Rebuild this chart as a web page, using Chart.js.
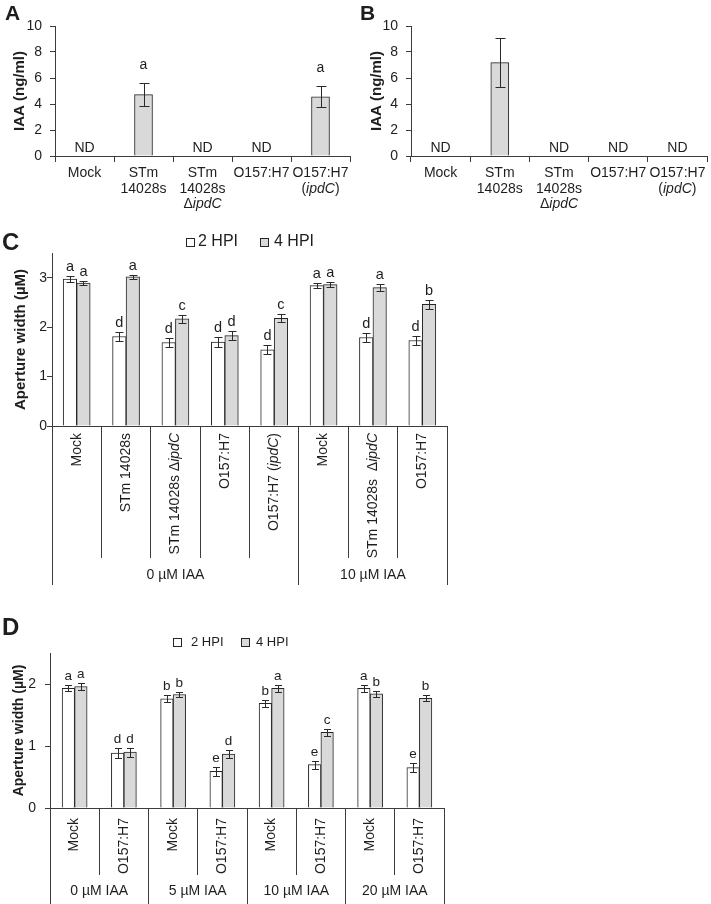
<!DOCTYPE html>
<html>
<head>
<meta charset="utf-8">
<script src="https://cdn.jsdelivr.net/npm/chart.js@4.4.1/dist/chart.umd.min.js"></script>
<style>
html,body{margin:0;padding:0;background:#fff;}
#wrap{position:relative;width:711px;height:904px;overflow:hidden;background:#fff;}
canvas{position:absolute;}
</style>
</head>
<body>
<div id="wrap">
<canvas id="cA" width="355" height="220" style="left:0;top:0"></canvas>
<canvas id="cB" width="356" height="220" style="left:355px;top:0"></canvas>
<canvas id="cC" width="460" height="380" style="left:0;top:220px"></canvas>
<canvas id="cD" width="460" height="304" style="left:0;top:600px"></canvas>
</div>
<script>
// ---------------- DATA ----------------
// Panels A & B: IAA production ('|' = line break, '_' toggles italic)
const abCategories = ['Mock', 'STm|14028s', 'STm|14028s|Δ_ipdC_', 'O157:H7', 'O157:H7|(_ipdC_)'];
const abTicks = [0, 2, 4, 6, 8, 10];
const iaaA = [null, 4.72, null, null, 4.55];
const iaaAErr = [0, 0.86, 0, 0, 0.8];
const iaaALetters = ['ND', 'a', 'ND', 'ND', 'a'];
const iaaB = [null, 7.18, null, null, null];
const iaaBErr = [0, 1.91, 0, 0, 0];
const iaaBLetters = ['ND', '', 'ND', 'ND', 'ND'];

// Series names
const seriesNames = ['2 HPI', '4 HPI'];

// Panel C
const cCategories = ['Mock', 'STm 14028s', 'STm 14028s Δ_ipdC_', 'O157:H7', 'O157:H7 (_ipdC_)', 'Mock', 'STm 14028s  Δ_ipdC_', 'O157:H7'];
const cGroups = ['0 µM IAA', '10 µM IAA'];
const cGroupSizes = [5, 3];
const cTicks = [0, 1, 2, 3];
const c2hpi = [2.97, 1.81, 1.69, 1.70, 1.54, 2.84, 1.79, 1.73];
const c2hpiErr = [0.06, 0.09, 0.09, 0.10, 0.09, 0.055, 0.10, 0.10];
const c4hpi = [2.89, 3.02, 2.17, 1.83, 2.18, 2.86, 2.80, 2.46];
const c4hpiErr = [0.045, 0.04, 0.085, 0.10, 0.08, 0.057, 0.07, 0.085];
const c2Letters = ['a', 'd', 'd', 'd', 'd', 'a', 'd', 'd'];
const c4Letters = ['a', 'a', 'c', 'd', 'c', 'a', 'a', 'b'];

// Panel D
const dCategories = ['Mock', 'O157:H7', 'Mock', 'O157:H7', 'Mock', 'O157:H7', 'Mock', 'O157:H7'];
const dGroups = ['0 µM IAA', '5 µM IAA', '10 µM IAA', '20 µM IAA'];
const dGroupSizes = [2, 2, 2, 2];
const dTicks = [0, 1, 2];
const d2hpi = [1.93, 0.885, 1.76, 0.59, 1.69, 0.70, 1.93, 0.65];
const d2hpiErr = [0.05, 0.075, 0.055, 0.067, 0.06, 0.065, 0.055, 0.075];
const d4hpi = [1.96, 0.90, 1.83, 0.87, 1.93, 1.22, 1.84, 1.77];
const d4hpiErr = [0.05, 0.07, 0.04, 0.07, 0.055, 0.055, 0.05, 0.05];
const d2Letters = ['a', 'd', 'b', 'e', 'b', 'e', 'a', 'e'];
const d4Letters = ['a', 'd', 'b', 'd', 'a', 'c', 'b', 'b'];

// ---------------- STYLE ----------------
const FAMILY = '"Liberation Sans", Arial, Helvetica, sans-serif';
const TEXT = '#1e1e1e';
const AXIS = '#3c3c3c';
const BORDER = '#262626';
const GRAY = '#d9d9d9';
const WHITE = '#ffffff';
Chart.defaults.font.family = FAMILY;
Chart.defaults.color = TEXT;

function segs(text) {
  return text.split('_').map((t, i) => ({t, it: i % 2 === 1})).filter(s => s.t.length);
}
function drawRich(ctx, text, x, y, size, align, bold) {
  const font = (bold ? 'bold ' : '') + size + 'px ' + FAMILY;
  const ifont = 'italic ' + font;
  const ss = segs(text);
  let w = 0;
  ss.forEach(s => { ctx.font = s.it ? ifont : font; w += ctx.measureText(s.t).width; });
  let sx = align === 'center' ? x - w / 2 : (align === 'right' ? x - w : x);
  ctx.textAlign = 'left';
  ss.forEach(s => { ctx.font = s.it ? ifont : font; ctx.fillText(s.t, sx, y); sx += ctx.measureText(s.t).width; });
}

function makeDecor(cfg) {
  return {
    id: 'decor',
    afterDatasetsDraw(chart) {
      const ctx = chart.ctx, xs = chart.scales.x, ys = chart.scales.y;
      ctx.save();
      chart.data.datasets.forEach((ds, di) => {
        const meta = chart.getDatasetMeta(di);
        const errs = cfg.errors[di], lets = cfg.letters[di];
        ds.data.forEach((v, i) => {
          const x = (v == null) ? xs.getPixelForValue(i) : meta.data[i].x;
          ctx.fillStyle = TEXT;
          ctx.textBaseline = 'alphabetic';
          if (lets[i] === 'ND') {
            drawRich(ctx, 'ND', x, ys.getPixelForValue(0) - 4, cfg.letterSize, 'center');
            return;
          }
          if (v == null) return;
          const e = errs[i];
          const yt = Math.round(ys.getPixelForValue(v + e)) + 0.5;
          const yb = Math.round(ys.getPixelForValue(v - e)) + 0.5;
          const xc = Math.round(x) + 0.5;
          ctx.strokeStyle = '#2a2a2a';
          ctx.lineWidth = 1;
          ctx.beginPath();
          ctx.moveTo(xc, yt); ctx.lineTo(xc, yb);
          ctx.moveTo(xc - cfg.cap, yt); ctx.lineTo(xc + cfg.cap, yt);
          ctx.moveTo(xc - cfg.cap, yb); ctx.lineTo(xc + cfg.cap, yb);
          ctx.stroke();
          if (lets[i]) drawRich(ctx, lets[i], x, yt - cfg.letterGap, cfg.letterSize, 'center');
        });
      });
      ctx.restore();
    },
    afterDraw(chart) {
      const ctx = chart.ctx, xs = chart.scales.x;
      const area = chart.chartArea;
      ctx.save();
      ctx.fillStyle = TEXT;
      // panel letter
      ctx.textBaseline = 'alphabetic';
      ctx.textAlign = 'left';
      ctx.font = 'bold ' + cfg.panel.size + 'px ' + FAMILY;
      ctx.fillText(cfg.panel.text, cfg.panel.x, cfg.panel.y);
      // multi-line horizontal category labels
      if (cfg.multi) {
        const m = cfg.multi;
        ctx.textBaseline = 'middle';
        chart.data.labels.forEach((lab, i) => {
          const x = xs.getPixelForValue(i);
          lab.split('|').forEach((ln, li) => drawRich(ctx, ln, x, m.top + li * m.lh, m.size, 'center'));
        });
      }
      // hierarchical rotated labels
      if (cfg.hier) {
        const h = cfg.hier;
        const n = chart.data.labels.length;
        const gb = new Set([0]);
        let acc = 0;
        h.sizes.forEach(s => { acc += s; gb.add(acc); });
        ctx.strokeStyle = AXIS;
        ctx.lineWidth = 1;
        const y0 = Math.round(area.bottom);
        ctx.beginPath();
        for (let b = 0; b <= n; b++) {
          const x = Math.round(xs.getPixelForValue(b - 0.5) - 0.5) + 0.5;
          ctx.moveTo(x, y0);
          ctx.lineTo(x, gb.has(b) ? h.groupBottom : h.itemBottom);
        }
        ctx.stroke();
        ctx.fillStyle = TEXT;
        chart.data.labels.forEach((lab, i) => {
          const x = xs.getPixelForValue(i);
          ctx.save();
          ctx.translate(x, h.labelTop);
          ctx.rotate(-Math.PI / 2);
          ctx.textBaseline = 'middle';
          drawRich(ctx, lab, 0, 0, h.size, 'right');
          ctx.restore();
        });
        acc = 0;
        ctx.textBaseline = 'middle';
        h.groups.forEach((g, gi) => {
          const x1 = xs.getPixelForValue(acc - 0.5);
          acc += h.sizes[gi];
          const x2 = xs.getPixelForValue(acc - 0.5);
          drawRich(ctx, g, (x1 + x2) / 2, h.groupY, h.groupSize, 'center');
        });
      }
      // legend
      if (cfg.legend) {
        const L = cfg.legend;
        chart.data.datasets.forEach((ds, di) => {
          const bx = L.boxX[di];
          const by = Math.round(L.y - L.box / 2) + 0.5;
          ctx.fillStyle = ds.backgroundColor;
          ctx.fillRect(bx + 0.5, by, L.box, L.box);
          ctx.strokeStyle = BORDER;
          ctx.lineWidth = 1;
          ctx.strokeRect(bx + 0.5, by, L.box, L.box);
          ctx.fillStyle = TEXT;
          ctx.textBaseline = 'middle';
          drawRich(ctx, ds.label, L.textX[di], L.y, L.size, 'left');
        });
      }
      ctx.restore();
    }
  };
}

function yScale(opts) {
  return {
    type: 'linear',
    min: 0,
    max: opts.max,
    afterBuildTicks: s => { s.ticks = opts.ticks.map(v => ({value: v})); },
    ticks: {font: {size: opts.tickSize, family: FAMILY}, color: TEXT, padding: opts.tickPad},
    grid: {display: true, drawOnChartArea: false, drawTicks: true, tickLength: 5, color: AXIS, lineWidth: 1},
    border: {display: true, color: AXIS, width: 1},
    title: {display: true, text: opts.title, color: TEXT, font: {size: opts.titleSize, weight: 'bold', family: FAMILY}, padding: {top: opts.titlePad, bottom: 0}},
    afterFit: s => { s.width = opts.width; }
  };
}

function xScale(opts) {
  return {
    type: 'category',
    offset: true,
    ticks: {display: false},
    grid: {display: opts.tickMarks, drawOnChartArea: false, drawTicks: true, tickLength: 6, offset: true, color: AXIS, lineWidth: 1},
    border: {display: true, color: AXIS, width: 1},
    afterFit: s => { s.height = opts.height; }
  };
}

const baseOpts = {
  responsive: false,
  animation: false,
  devicePixelRatio: 1,
  events: [],
  plugins: {legend: {display: false}, tooltip: {enabled: false}}
};

// ---------------- Panel A ----------------
new Chart(document.getElementById('cA'), {
  type: 'bar',
  data: {
    labels: abCategories,
    datasets: [{label: 'IAA', data: iaaA, backgroundColor: GRAY, borderColor: BORDER, borderWidth: 1, barThickness: 18}]
  },
  options: Object.assign({}, baseOpts, {
    layout: {padding: {top: 26, right: 5, left: 0, bottom: 0}},
    scales: {
      x: xScale({height: 64, tickMarks: true}),
      y: yScale({max: 10, ticks: abTicks, tickSize: 14, tickPad: 8, title: 'IAA (ng/ml)', titleSize: 15, titlePad: 11, width: 55})
    }
  }),
  plugins: [makeDecor({
    errors: [iaaAErr], letters: [iaaALetters], cap: 5, letterGap: 15, letterSize: 14,
    panel: {text: 'A', x: 5, y: 20, size: 21},
    multi: {top: 173, lh: 15.7, size: 14}
  })]
});

// ---------------- Panel B ----------------
new Chart(document.getElementById('cB'), {
  type: 'bar',
  data: {
    labels: abCategories,
    datasets: [{label: 'IAA', data: iaaB, backgroundColor: GRAY, borderColor: BORDER, borderWidth: 1, barThickness: 18}]
  },
  options: Object.assign({}, baseOpts, {
    layout: {padding: {top: 26, right: 4, left: 0, bottom: 0}},
    scales: {
      x: xScale({height: 64, tickMarks: true}),
      y: yScale({max: 10, ticks: abTicks, tickSize: 14, tickPad: 8, title: 'IAA (ng/ml)', titleSize: 15, titlePad: 13, width: 56})
    }
  }),
  plugins: [makeDecor({
    errors: [iaaBErr], letters: [iaaBLetters], cap: 5, letterGap: 15, letterSize: 14,
    panel: {text: 'B', x: 5, y: 20, size: 21},
    multi: {top: 173, lh: 15.7, size: 14}
  })]
});

// ---------------- Panel C ----------------
new Chart(document.getElementById('cC'), {
  type: 'bar',
  data: {
    labels: cCategories,
    datasets: [
      {label: seriesNames[0], data: c2hpi, backgroundColor: WHITE, borderColor: BORDER, borderWidth: 1, barThickness: 13.5},
      {label: seriesNames[1], data: c4hpi, backgroundColor: GRAY, borderColor: BORDER, borderWidth: 1, barThickness: 13.5}
    ]
  },
  options: Object.assign({}, baseOpts, {
    layout: {padding: {top: 33, right: 13, left: 0, bottom: 0}},
    scales: {
      x: xScale({height: 174, tickMarks: false}),
      y: yScale({max: 3.5, ticks: cTicks, tickSize: 14, tickPad: 0, title: 'Aperture width (µM)', titleSize: 15, titlePad: 12, width: 52})
    }
  }),
  plugins: [makeDecor({
    errors: [c2hpiErr, c4hpiErr], letters: [c2Letters, c4Letters], cap: 4, letterGap: 6, letterSize: 14.5,
    panel: {text: 'C', x: 2, y: 30, size: 24},
    hier: {labelTop: 213, itemBottom: 338, groupBottom: 365, groupY: 355, size: 14, groupSize: 14, groups: cGroups, sizes: cGroupSizes},
    legend: {y: 22, box: 8, boxX: [186, 260], textX: [198, 274], size: 16}
  })]
});

// ---------------- Panel D ----------------
new Chart(document.getElementById('cD'), {
  type: 'bar',
  data: {
    labels: dCategories,
    datasets: [
      {label: seriesNames[0], data: d2hpi, backgroundColor: WHITE, borderColor: BORDER, borderWidth: 1, barThickness: 12.5},
      {label: seriesNames[1], data: d4hpi, backgroundColor: GRAY, borderColor: BORDER, borderWidth: 1, barThickness: 12.5}
    ]
  },
  options: Object.assign({}, baseOpts, {
    layout: {padding: {top: 53, right: 16, left: 0, bottom: 0}},
    scales: {
      x: xScale({height: 96, tickMarks: false}),
      y: yScale({max: 2.5, ticks: dTicks, tickSize: 14, tickPad: 9, title: 'Aperture width (µM)', titleSize: 14, titlePad: 11, width: 50})
    }
  }),
  plugins: [makeDecor({
    errors: [d2hpiErr, d4hpiErr], letters: [d2Letters, d4Letters], cap: 3.5, letterGap: 6, letterSize: 13.5,
    panel: {text: 'D', x: 2, y: 35, size: 24},
    hier: {labelTop: 218, itemBottom: 275, groupBottom: 304, groupY: 291, size: 14, groupSize: 14, groups: dGroups, sizes: dGroupSizes},
    legend: {y: 42, box: 8, boxX: [173, 241], textX: [191, 256], size: 13}
  })]
});
</script>
</body>
</html>
